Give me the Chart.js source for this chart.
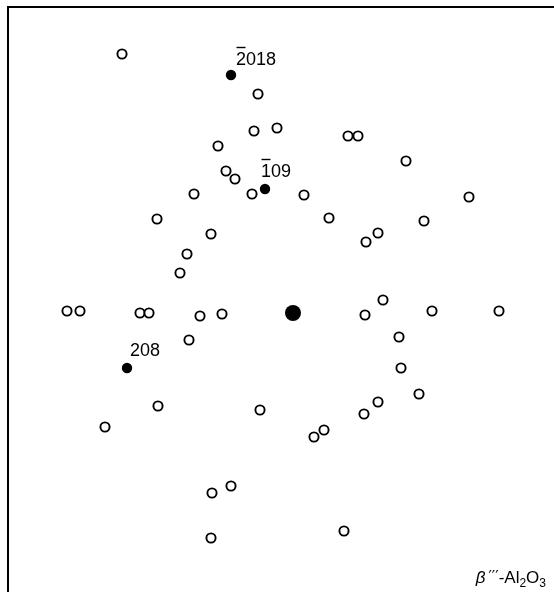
<!DOCTYPE html>
<html>
<head>
<meta charset="utf-8">
<script src="https://cdn.jsdelivr.net/npm/chart.js@4.4.1/dist/chart.umd.min.js"></script>
<style>
  html, body { margin: 0; padding: 0; background: #fff; }
  canvas { display: block; }
</style>
</head>
<body>
<canvas id="pattern" width="554" height="592"></canvas>
<script>
// Diffraction spots, coordinates relative to the transmitted beam (x right, y up)
const openSpotsX = [-171, -35, -39, -16, 55, 65, -75, 113, -67, -58, -99, -41, 11, 176,
  -136, 36, 131, -82, 85, 73, -106, -113, 90, -226, -213, -153, -144, -93, -71, 72, 139, 206,
  -104, 106, 108, 126, 85, -135, -33, 71, -188, 21, 31, -62, -81, -82, 51];
const openSpotsY = [259, 219, 182, 185, 177, 177, 167, 152, 142, 134, 119, 119, 118, 116,
  94, 95, 92, 79, 80, 71, 59, 40, 13, 2, 2, 0, 0, -3, -1, -2, 2, 2,
  -27, -24, -55, -81, -89, -93, -97, -101, -114, -124, -117, -173, -180, -225, -218];

// Indexed spots
const indexedX = [-62, -28, -166];
const indexedY = [238, 124, -55];
const indexedLabels = ['2018', '109', '208'];
const indexedBarredDigits = [1, 1, 0];   // leading digits carrying an overbar (negative index)

// Transmitted beam
const centreX = [0];
const centreY = [0];

const phaseLabel = ['\u03B2', '\u2032\u2032\u2032', '-Al', '2', 'O', '3'];

const pts = (xs, ys) => xs.map((x, i) => ({ x, y: ys[i] }));

const FONT = '"Liberation Sans", Arial, Helvetica, sans-serif';

const spotLabelPlugin = {
  id: 'spotLabels',
  afterDatasetsDraw(chart, args, opts) {
    const ctx = chart.ctx;
    const meta = chart.getDatasetMeta(1);
    ctx.save();
    ctx.fillStyle = '#000';
    ctx.strokeStyle = '#000';
    ctx.font = '18px ' + FONT;
    ctx.textBaseline = 'alphabetic';
    ctx.textAlign = 'left';
    indexedLabels.forEach((txt, i) => {
      const el = meta.data[i];
      const off = opts.offsets[i];
      const tx = el.x + off[0];
      const ty = el.y + off[1];
      ctx.fillText(txt, tx, ty);
      const n = indexedBarredDigits[i];
      if (n > 0) {
        const w = ctx.measureText(txt.slice(0, n)).width;
        ctx.lineWidth = 1.4;
        ctx.beginPath();
        ctx.moveTo(tx + 0.5, ty - 17.5);
        ctx.lineTo(tx + w - 0.5, ty - 17.5);
        ctx.stroke();
      }
    });

    // Phase name in the lower right corner
    const area = chart.chartArea;
    const right = area.right - 8;
    const base = area.bottom - 9;
    const parts = [
      { t: phaseLabel[0], f: 'italic 17px ' + FONT, dy: 0, gap: 3 },
      { t: phaseLabel[1], f: '15px "DejaVu Sans", sans-serif', dy: -1, gap: 0 },
      { t: phaseLabel[2], f: '17px ' + FONT, dy: 0, gap: 0 },
      { t: phaseLabel[3], f: '12px ' + FONT, dy: 4, gap: 0 },
      { t: phaseLabel[4], f: '17px ' + FONT, dy: 0, gap: 0 },
      { t: phaseLabel[5], f: '12px ' + FONT, dy: 4, gap: 0 }
    ];
    let total = 0;
    parts.forEach(p => { ctx.font = p.f; p.w = ctx.measureText(p.t).width + p.gap; total += p.w; });
    let x = right - total;
    parts.forEach(p => {
      ctx.font = p.f;
      ctx.fillText(p.t, x, base + p.dy);
      x += p.w;
    });
    ctx.restore();
  }
};

const noPad = (s) => {
  s.paddingLeft = 0; s.paddingRight = 0; s.paddingTop = 0; s.paddingBottom = 0;
};

new Chart(document.getElementById('pattern'), {
  type: 'scatter',
  data: {
    datasets: [
      {
        data: pts(openSpotsX, openSpotsY),
        pointStyle: 'circle',
        pointRadius: 4.6,
        pointBorderWidth: 1.9,
        pointBackgroundColor: '#fff',
        pointBorderColor: '#000'
      },
      {
        data: pts(indexedX, indexedY),
        pointStyle: 'circle',
        pointRadius: 5.2,
        pointBorderWidth: 0,
        pointBackgroundColor: '#000',
        pointBorderColor: '#000'
      },
      {
        data: pts(centreX, centreY),
        pointStyle: 'circle',
        pointRadius: 8,
        pointBorderWidth: 0,
        pointBackgroundColor: '#000',
        pointBorderColor: '#000'
      }
    ]
  },
  options: {
    responsive: false,
    devicePixelRatio: 1,
    animation: false,
    layout: { padding: 0, autoPadding: false },
    plugins: {
      legend: { display: false },
      tooltip: { enabled: false },
      spotLabels: { offsets: [[5, -10], [-4, -12], [3, -12]] }
    },
    scales: {
      x: {
        type: 'linear',
        position: 'top',
        min: -285,
        max: 261,
        ticks: { display: false },
        grid: { display: false },
        border: { display: true, color: '#000', width: 2 },
        afterFit(s) { s.height = 7; noPad(s); }
      },
      y: {
        type: 'linear',
        position: 'left',
        min: -279,
        max: 306,
        ticks: { display: false },
        grid: { display: false },
        border: { display: true, color: '#000', width: 2 },
        afterFit(s) { s.width = 8; noPad(s); }
      }
    }
  },
  plugins: [spotLabelPlugin]
});
</script>
</body>
</html>
